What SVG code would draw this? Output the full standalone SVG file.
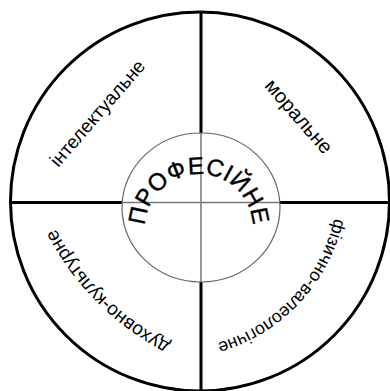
<svg xmlns="http://www.w3.org/2000/svg" width="390" height="391" viewBox="0 0 390 391">
<style>
text{font-family:"Liberation Sans",Arial,sans-serif;fill:#000}
.thick{stroke:#000;stroke-width:3;fill:none}
.thin{stroke:#777;stroke-width:1.5;fill:none}
.lbl{font-size:19px}
.core{font-size:24px;letter-spacing:0.4px;stroke:#000;stroke-width:0.4}
</style>
<defs>
<path id="pCore" d="M145,228 A54,54 0 0 1 253,228"/>
<path id="pBL" d="M200,356.2 A263,263 0 0 1 42.8,199"/>
<path id="pBR" d="M338.2,171.6 A169,169 0 0 1 178.9,349.7"/>
</defs>
<rect width="390" height="391" fill="#fff"/>
<g id="outer-circle">
<circle cx="200" cy="201.5" r="189.5" class="thick"/>
</g>
<g id="connectors">
<line x1="201" y1="12" x2="201" y2="391" class="thick"/>
<line x1="11" y1="202.5" x2="389" y2="202.5" class="thick"/>
</g>
<g id="center">
<ellipse cx="201" cy="207.5" rx="79" ry="74.5" fill="#fff" stroke="#666" stroke-width="1.2"/>
<line x1="201" y1="133" x2="201" y2="282" class="thin"/>
<line x1="122" y1="202.5" x2="280" y2="202.5" class="thin"/>
<text class="core" text-anchor="middle"><textPath href="#pCore" startOffset="50%">ПРОФЕСІЙНЕ</textPath></text>
</g>
<g id="intellectual">
<text class="lbl" text-anchor="middle" transform="translate(98.5,114) rotate(-49)" y="5">інтелектуальне</text>
</g>
<g id="moral">
<text class="lbl" text-anchor="middle" style="font-size:20px" transform="translate(297.5,117.5) rotate(49)" y="5">моральне</text>
</g>
<g id="spiritual">
<text class="lbl" text-anchor="middle"><textPath href="#pBL" startOffset="50%">духовно-культурне</textPath></text>
</g>
<g id="physical">
<text class="lbl" text-anchor="middle" style="font-size:17.7px"><textPath href="#pBR" startOffset="51.5%">фізично-валеологічне</textPath></text>
</g>
</svg>
